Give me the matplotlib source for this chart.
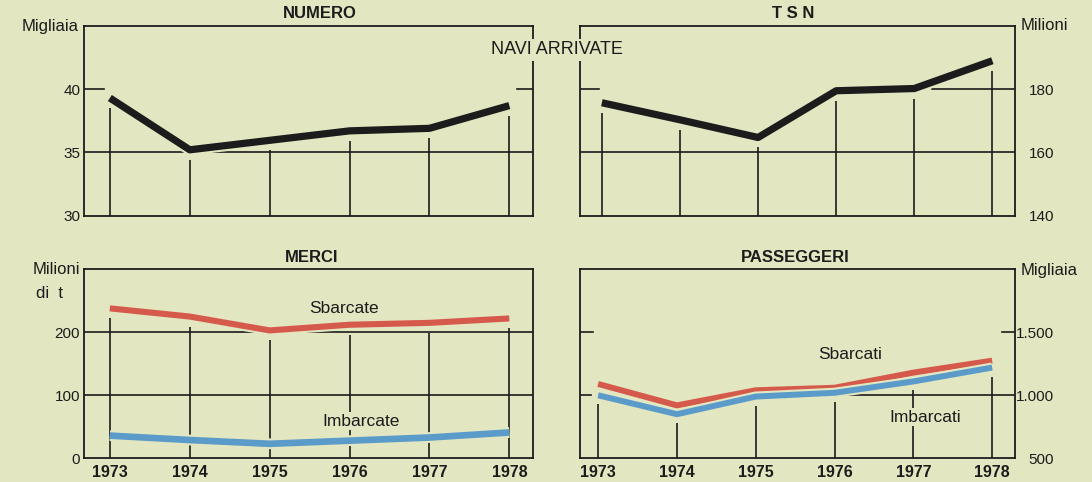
import matplotlib.pyplot as plt
import matplotlib.patheffects as pe

plt.rcParams['font.family'] = ['Liberation Sans', 'DejaVu Sans']

# movimento nei porti, 1973-1978
years = [1973, 1974, 1975, 1976, 1977, 1978]
navi_numero = [39.3, 35.2, 35.95, 36.7, 36.9, 38.7]      # migliaia
navi_tsn = [175.7, 170.3, 164.7, 179.5, 180.2, 189.0]     # milioni
merci_sbarcate = [238, 225, 203, 212, 215, 222]           # milioni di t
merci_imbarcate = [36, 29, 23, 28, 33, 41]
pass_sbarcati = [1090, 920, 1040, 1060, 1180, 1275]       # migliaia
pass_imbarcati = [1000, 850, 990, 1020, 1110, 1220]

BG = '#e2e6c1'
INK = '#1c1c1c'
RED = '#d65a4b'
BLUE = '#5a9bc9'

W, H = 1092, 482
fig = plt.figure(figsize=(W / 100, H / 100), dpi=100, facecolor=BG)


def px(x, y):
    return x / W, 1 - y / H


def panel(rect, xlim, ylim, ticks, labels, right=False):
    ax = fig.add_axes(rect, facecolor=BG)
    ax.set_xlim(*xlim)
    ax.set_ylim(*ylim)
    ax.set_yticks(ticks)
    ax.set_yticklabels(labels)
    for s in ax.spines.values():
        s.set_color(INK)
        s.set_linewidth(1.3)
    ax.tick_params(length=0, labelsize=11, colors=INK)
    if right:
        ax.yaxis.tick_right()
        ax.tick_params(axis='y', pad=28)
        for t in ax.get_yticklabels():
            t.set_horizontalalignment('right')
    else:
        ax.tick_params(axis='y', pad=3)
    return ax


def verticals(ax, cap, gap_px=10):
    lo, hi = ax.get_ylim()
    gap = gap_px / 189.5 * (hi - lo)
    ax.vlines(years, lo, [c - gap for c in cap], color=INK, lw=1.2, zorder=1)


def gridline(ax, level, spans):
    for a, b in spans:
        ax.axhline(level, a, b, color=INK, lw=1.2, zorder=1)


def series(ax, vals, color, lw):
    ax.plot(years, vals, color=color, lw=lw, solid_joinstyle='round',
            solid_capstyle='butt', zorder=3,
            path_effects=[pe.Stroke(linewidth=lw + 3, foreground=BG), pe.Normal()])


def year_axis(ax):
    ax.set_xticks(years)
    ax.set_xticklabels([str(y) for y in years], fontweight='bold', fontsize=11.5)
    ax.tick_params(axis='x', pad=5)


def no_year_axis(ax):
    ax.set_xticks([])


left_x, left_w = 84.3 / W, 449 / W
right_x, right_w = 580 / W, 435 / W
top_y, top_h = (H - 215.5) / H, 189.5 / H
bot_y, bot_h = (H - 458.3) / H, 189 / H

# NUMERO
ax1 = panel([left_x, top_y, left_w, top_h], (1972.68, 1978.3), (30, 45),
            [30, 35, 40], ['30', '35', '40'])
no_year_axis(ax1)
gridline(ax1, 35, [(0, 1)])
gridline(ax1, 40, [(0, 0.043), (0.964, 1)])
verticals(ax1, navi_numero)
series(ax1, navi_numero, INK, 5.2)

# TSN
ax2 = panel([right_x, top_y, right_w, top_h], (1972.72, 1978.29), (140, 200),
            [140, 160, 180], ['140', '160', '180'], right=True)
no_year_axis(ax2)
gridline(ax2, 160, [(0, 1)])
gridline(ax2, 180, [(0, 0.043), (0.81, 1)])
verticals(ax2, navi_tsn)
series(ax2, navi_tsn, INK, 5.2)

# MERCI
ax3 = panel([left_x, bot_y, left_w, bot_h], (1972.68, 1978.3), (0, 300),
            [0, 100, 200], ['0', '100', '200'])
year_axis(ax3)
gridline(ax3, 100, [(0, 1)])
gridline(ax3, 200, [(0, 1)])
verticals(ax3, merci_sbarcate)
series(ax3, merci_sbarcate, RED, 4.4)
series(ax3, merci_imbarcate, BLUE, 4.8)
ax3.text(1975.93, 238, 'Sbarcate', ha='center', va='center', fontsize=12.5, color=INK)
ax3.text(1976.15, 59, 'Imbarcate', ha='center', va='center', fontsize=12.5, color=INK,
         bbox=dict(facecolor=BG, edgecolor='none', pad=1), zorder=2)

# PASSEGGERI
ax4 = panel([right_x, bot_y, right_w, bot_h], (1972.77, 1978.29), (500, 2000),
            [500, 1000, 1500], ['500', '1.000', '1.500'], right=True)
year_axis(ax4)
gridline(ax4, 1000, [(0, 0.025), (0.61, 1)])
gridline(ax4, 1500, [(0, 0.03), (0.97, 1)])
verticals(ax4, pass_imbarcati, gap_px=9)
series(ax4, pass_sbarcati, RED, 4.3)
series(ax4, pass_imbarcati, BLUE, 4.3)
ax4.text(1976.2, 1325, 'Sbarcati', ha='center', va='center', fontsize=12.5, color=INK)
ax4.text(1977.15, 825, 'Imbarcati', ha='center', va='center', fontsize=12.5, color=INK,
         bbox=dict(facecolor=BG, edgecolor='none', pad=1), zorder=2)

# titles and units
for label, (x, y) in [('NUMERO', (320, 14)), ('T S N', (793, 14)),
                      ('MERCI', (312, 258)), ('PASSEGGERI', (795, 258))]:
    fig.text(*px(x, y), label, ha='center', va='center', fontsize=12,
             fontweight='bold', color=INK)

fig.text(*px(79, 26), 'Migliaia', ha='right', va='center', fontsize=12, color=INK)
fig.text(*px(1021, 26), 'Milioni', ha='left', va='center', fontsize=12, color=INK)
fig.text(*px(80, 269), 'Milioni', ha='right', va='center', fontsize=12, color=INK)
fig.text(*px(50, 293), 'di  t', ha='center', va='center', fontsize=12, color=INK)
fig.text(*px(1021, 270), 'Migliaia', ha='left', va='center', fontsize=12, color=INK)

fig.text(*px(557, 50), 'NAVI ARRIVATE', ha='center', va='center', fontsize=13,
         color=INK, bbox=dict(facecolor=BG, edgecolor='none', pad=2))

fig.savefig('out.png', dpi=100, facecolor=BG)
